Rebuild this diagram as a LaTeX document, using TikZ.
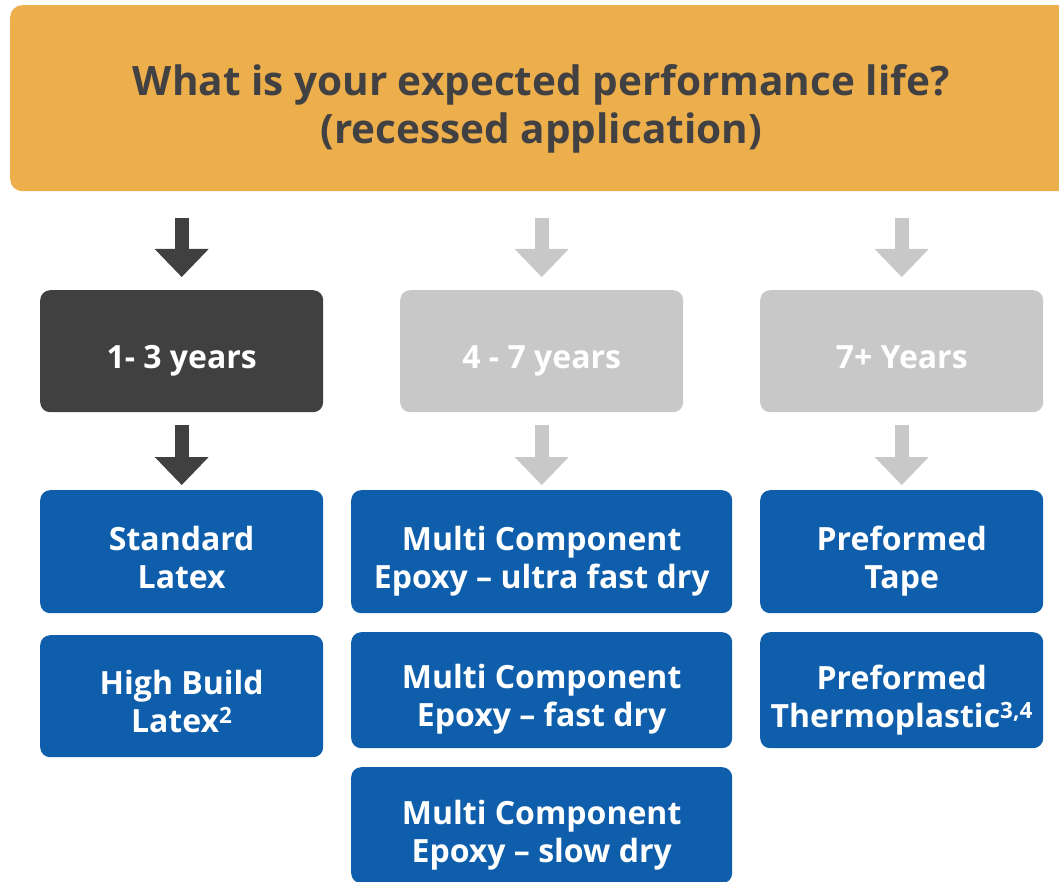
\documentclass[tikz,border=0pt]{standalone}
\usepackage{fontspec}
\setmainfont{Open Sans}
\usetikzlibrary{arrows.meta,calc}
\definecolor{hdrorange}{RGB}{237,175,75}
\definecolor{darktxt}{RGB}{65,64,66}
\definecolor{darkbox}{RGB}{64,64,65}
\definecolor{greybox}{RGB}{200,200,200}
\definecolor{bluebox}{RGB}{14,94,171}
\newcommand{\lowtxt}[2]{\raisebox{-#1}[\height][\depth]{\begin{tabular}{@{}c@{}}#2\end{tabular}}}
\tikzset{
  basebox/.style={rounded corners=10pt, inner sep=0pt, anchor=north west, align=center, text=white,
    font=\fontsize{32}{38}\selectfont\bfseries},
  yearsdark/.style={basebox, fill=darkbox, minimum width=283pt, minimum height=122pt},
  yearsgrey/.style={basebox, fill=greybox, minimum width=283pt, minimum height=122pt},
  prodbox/.style={basebox, fill=bluebox, minimum height=#1},
  bigarrow/.style={line width=14pt, draw=#1, -{Triangle[width=54pt,length=28pt,line width=0pt,fill=#1]}}
}
\begin{document}
\begin{tikzpicture}[x=1pt,y=1pt]
\clip (0,0) rectangle (1059,-882);
\useasboundingbox (0,0) rectangle (1059,-882);
\node[rounded corners=12pt, fill=hdrorange, anchor=north west, minimum width=1062pt, minimum height=186pt,
  inner sep=0pt, align=center, text=darktxt, font=\fontsize{40.5}{48}\selectfont\bfseries]
  (hdr) at (10,-5) {\lowtxt{12pt}{What is your expected performance life?\\(recessed application)}};

\node[yearsdark] (y1) at (40,-290) {\lowtxt{10pt}{1- 3 years}};
\node[yearsgrey] (y2) at (400,-290) {\lowtxt{10pt}{4 - 7 years}};
\node[yearsgrey] (y3) at (760,-290) {\lowtxt{10pt}{7+ Years}};

\node[prodbox=123pt, minimum width=283pt] (p11) at (40,-490) {\lowtxt{10pt}{Standard\\Latex}};
\node[prodbox=122pt, minimum width=283pt] (p12) at (40,-635) {\lowtxt{10pt}{High Build\\Latex\textsuperscript{2}}};

\node[prodbox=123pt, minimum width=381pt] (p21) at (351,-490) {\lowtxt{10pt}{Multi Component\\Epoxy – ultra fast dry}};
\node[prodbox=116pt, minimum width=381pt] (p22) at (351,-632) {\lowtxt{10pt}{Multi Component\\Epoxy – fast dry}};
\node[prodbox=116pt, minimum width=381pt] (p23) at (351,-767) {\lowtxt{11pt}{Multi Component\\Epoxy – slow dry}};

\node[prodbox=123pt, minimum width=283pt] (p31) at (760,-490) {\lowtxt{10pt}{Preformed\\Tape}};
\node[prodbox=116pt, minimum width=283pt] (p32) at (760,-632) {\lowtxt{11pt}{Preformed\\Thermoplastic\textsuperscript{3,4}}};

\draw[bigarrow=darkbox, shorten <=27pt, shorten >=13pt] (hdr.south -| y1.north) -- (y1.north);
\draw[bigarrow=greybox, shorten <=27pt, shorten >=13pt] (hdr.south -| y2.north) -- (y2.north);
\draw[bigarrow=greybox, shorten <=27pt, shorten >=13pt] (hdr.south -| y3.north) -- (y3.north);

\draw[bigarrow=darkbox, shorten <=13pt, shorten >=5pt] (y1.south) -- (y1.south |- p11.north);
\draw[bigarrow=greybox, shorten <=13pt, shorten >=5pt] (y2.south) -- (y2.south |- p21.north);
\draw[bigarrow=greybox, shorten <=13pt, shorten >=5pt] (y3.south) -- (y3.south |- p31.north);
\end{tikzpicture}
\end{document}
